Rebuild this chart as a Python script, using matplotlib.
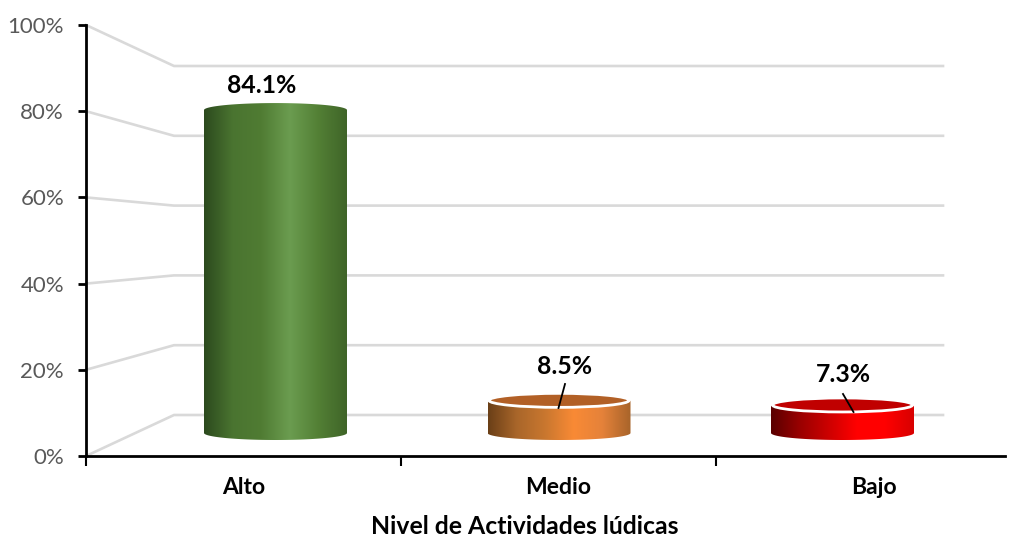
import numpy as np
import matplotlib
matplotlib.use("Agg")
import matplotlib.pyplot as plt
from matplotlib.colors import LinearSegmentedColormap
from matplotlib.patches import Ellipse, PathPatch
from matplotlib.path import Path

categories = ["Alto", "Medio", "Bajo"]
values = [84.1, 8.5, 7.3]
value_labels = ["84.1%", "8.5%", "7.3%"]
y_ticks = [0, 20, 40, 60, 80, 100]
y_tick_labels = ["0%", "20%", "40%", "60%", "80%", "100%"]
x_title = "Nivel de Actividades lúdicas"

W, H = 1019, 537
AX_L, AX_R, AX_T, AX_B = 86, 1005, 25, 456
PX_PER_CAT = 315.0
PX_PER_PCT = (AX_B - AX_T) / 100.0

body_stops = [
    ["#2c4a1e", "#4a7430", "#507c33", "#6b9c50", "#538035", "#3f6428"],
    ["#6a3f17", "#a9662a", "#c9772f", "#f98a35", "#e5823a", "#a8642a"],
    ["#5a0000", "#990000", "#cc0000", "#ff0000", "#ff0000", "#d80000"],
]
top_colors = ["#4f7a33", "#b26026", "#c00000"]
rims = [False, True, True]
label_px = [(261.5, 86), (565, 366), (843, 375)]
leaders = [None, ((565, 384), (558.5, 408)), ((843, 394), (853.5, 412))]

fig = plt.figure(figsize=(W / 100, H / 100), dpi=100)
ax = fig.add_axes([AX_L / W, 1 - AX_B / H, (AX_R - AX_L) / W, (AX_B - AX_T) / H])
ax.set_xlim(-0.5, -0.5 + (AX_R - AX_L) / PX_PER_CAT)
ax.set_ylim(0, 100)
ax.patch.set_alpha(0)


def xpx(p):
    return -0.5 + (p - AX_L) / PX_PER_CAT


def ypx(p):
    return (AX_B - p) / PX_PER_PCT


# Floor/back-wall gridlines in the pseudo 3D frame
BACK_L, BACK_R = 174, 943
for v in y_ticks:
    yb = ypx(415 - v * (415 - 66) / 100)
    ax.plot([xpx(AX_L), xpx(BACK_L), xpx(BACK_R)], [v, yb, yb],
            color="#d9d9d9", lw=1.9, zorder=1, solid_joinstyle="miter", clip_on=False)

# Cylinders
BAR_SPACING = 283.5
BAR_FIRST = 275.5
BAR_HW = 71.5
BASE_PX = 433.0
SCALE_PX = 3.84
ELL_PX = 7.0

for i, v in enumerate(values):
    cx = BAR_FIRST + BAR_SPACING * i
    top_px = BASE_PX - v * SCALE_PX
    x0, x1 = xpx(cx - BAR_HW), xpx(cx + BAR_HW)
    xc = xpx(cx)
    y_base, y_top = ypx(BASE_PX), ypx(top_px)
    ry = ELL_PX / PX_PER_PCT
    t = np.linspace(np.pi, 2 * np.pi, 60)
    xs = xc + (x1 - xc) * np.cos(t)
    bottom = y_base + ry * np.sin(t)
    verts = [(x0, y_top)] + list(zip(xs, bottom)) + [(x1, y_top)]
    if rims[i]:
        top_arc = y_top + ry * np.sin(t)
    else:
        top_arc = y_top - ry * np.sin(t)
    verts += list(zip(xs[::-1], top_arc[::-1])) + [(x0, y_top)]
    path = Path(verts)
    cmap = LinearSegmentedColormap.from_list(f"c{i}", body_stops[i])
    grad = np.linspace(0, 1, 256).reshape(1, -1)
    im = ax.imshow(grad, extent=[x0, x1, ypx(BASE_PX + ELL_PX), ypx(top_px - ELL_PX)],
                   cmap=cmap, aspect="auto", zorder=3, interpolation="bilinear")
    im.set_clip_path(PathPatch(path, transform=ax.transData))
    if rims[i]:
        ax.add_patch(Ellipse((xc, y_top), (x1 - x0) * 0.98, 2 * ry, facecolor=top_colors[i],
                             edgecolor="white", lw=2.0, zorder=4))
    ax.text(xpx(label_px[i][0]), ypx(label_px[i][1]), value_labels[i], ha="center", va="center",
            fontsize=17.8, fontweight="bold", family="Lato", color="black", zorder=6)
    if leaders[i]:
        (a, b), (c, d) = leaders[i]
        ax.plot([xpx(a), xpx(c)], [ypx(b), ypx(d)], color="black", lw=1.3, zorder=5)

ax.set_xlim(-0.5, -0.5 + (AX_R - AX_L) / PX_PER_CAT)
ax.set_ylim(0, 100)

for s in ["top", "right"]:
    ax.spines[s].set_visible(False)
for s in ["left", "bottom"]:
    ax.spines[s].set_color("black")
    ax.spines[s].set_linewidth(2.0)
    ax.spines[s].set_zorder(7)

ax.set_yticks(y_ticks)
ax.set_yticklabels(y_tick_labels, fontsize=16, family="Lato", color="#595959")
ax.tick_params(axis="y", length=5.8, width=2, color="black", pad=10)
ax.set_xticks([-0.5, 0.5, 1.5])
ax.set_xticklabels([])
ax.tick_params(axis="x", length=7, width=1.5, color="black")
for i, c in enumerate(categories):
    ax.text(i, ypx(487), c, ha="center", va="center", fontsize=16.5,
            fontweight="bold", family="Lato", color="black", clip_on=False)
ax.text(xpx(525), ypx(527), x_title, ha="center", va="center", fontsize=17.8,
        fontweight="bold", family="Lato", color="black", clip_on=False)

fig.savefig("out.png", dpi=100, facecolor="white")
